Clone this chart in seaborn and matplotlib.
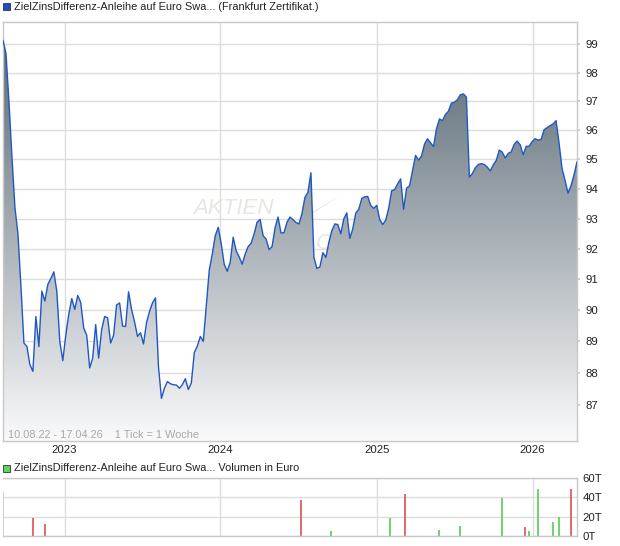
import numpy as np
import pandas as pd
import seaborn as sns
import matplotlib.pyplot as plt
from matplotlib.colors import LinearSegmentedColormap
from matplotlib.patches import Rectangle, Polygon
from matplotlib.ticker import NullLocator, NullFormatter

# --- Daten (woechentlich ab 10.08.22) ---
start = '2022-08-10'
prices = [
    # Aug 2022 - Apr 2023
    99.15, 98.68, 96.98, 95.08, 93.37, 92.50, 90.78, 88.95, 88.84, 88.26,
    88.05, 89.80, 88.84, 90.62, 90.30, 90.84, 91.03, 91.25, 90.62, 89.00,
    88.39, 89.20, 89.87, 90.38, 90.03, 90.48, 90.25, 89.43, 89.20, 88.16,
    88.47, 89.54, 88.47, 89.38, 89.80, 89.76, 88.95, 89.20,
    # Mai 2023 - Jan 2024
    90.17, 90.24, 89.49, 89.48, 90.60, 90.03, 89.63, 89.16, 89.28, 88.92,
    89.60, 89.96, 90.24, 90.40, 88.21, 87.20, 87.52, 87.73, 87.66, 87.63,
    87.62, 87.52, 87.63, 87.82, 87.48, 87.69, 88.65, 88.85, 89.16, 89.00,
    90.14, 91.31, 91.83, 92.44, 92.72, 92.17, 91.50, 91.27,
    # Jan 2024 - Okt 2024
    91.56, 92.39, 91.94, 91.74, 91.50, 91.83, 92.08, 92.19, 92.50, 92.89,
    92.98, 92.44, 92.33, 91.98, 92.08, 92.70, 93.06, 92.53, 92.54, 92.89,
    93.06, 92.97, 92.88, 92.83, 93.17, 93.72, 93.89, 94.55, 91.72, 91.36,
    91.41, 91.88, 91.72, 92.22, 92.61, 92.83, 92.81, 92.50, 93.00,
    # Okt 2024 - Jul 2025
    93.20, 92.35, 92.67, 93.19, 93.32, 93.68, 93.74, 93.75, 93.45, 93.35,
    93.45, 92.98, 92.81, 92.95, 93.35, 93.94, 93.98, 94.17, 94.34, 93.32,
    94.03, 94.11, 94.63, 95.14, 94.98, 95.12, 95.53, 95.71, 95.57, 95.44,
    96.05, 96.39, 96.33, 96.55, 96.66, 96.94, 96.97, 97.06, 97.23,
    # Jul 2025 - Apr 2026
    97.26, 97.15, 94.40, 94.52, 94.72, 94.83, 94.86, 94.83, 94.74, 94.61,
    94.82, 94.97, 95.32, 95.25, 95.05, 95.21, 95.26, 95.52, 95.63, 95.50,
    95.16, 95.45, 95.45, 95.61, 95.71, 95.66, 95.69, 96.02, 96.09, 96.16,
    96.22, 96.33, 95.56, 94.69, 94.29, 93.86, 94.11, 94.48, 94.92,
]

year_ticks = ['2023-01-01', '2024-01-01', '2025-01-01', '2026-01-01']
year_labels = ['2023', '2024', '2025', '2026']
price_ticks = [87, 88, 89, 90, 91, 92, 93, 94, 95, 96, 97, 98, 99]

vol_dates = ['2022-08-10', '2022-10-19', '2022-11-16', '2024-07-07', '2024-09-16',
             '2025-02-02', '2025-03-09', '2025-05-26', '2025-07-14', '2025-10-22',
             '2025-12-15', '2025-12-24', '2026-01-14', '2026-02-17', '2026-03-05',
             '2026-04-02']
vol_values = [45.9, 18.6, 12.4, 37.2, 5.2, 18.6, 43.4, 6.2, 10.3, 39.3,
              9.3, 5.2, 48.6, 14.5, 19.7, 48.6]  # in Tausend Euro
vol_dir = ['flat', 'down', 'down', 'down', 'up', 'up', 'down', 'up', 'up', 'up',
           'down', 'up', 'up', 'up', 'up', 'down']
vol_ticks = [0, 20, 40, 60]

title_top = 'ZielZinsDifferenz-Anleihe auf Euro Swa... (Frankfurt Zertifikat.)'
title_vol = 'ZielZinsDifferenz-Anleihe auf Euro Swa... Volumen in Euro'
period_txt = '10.08.22 - 17.04.26    1 Tick = 1 Woche'

# --- Stil ---
sns.set_theme(style='white')
plt.rcParams['font.family'] = ['Liberation Sans', 'DejaVu Sans']
GRID = '#dcdcdc'
SPINE = '#c8c8c8'
LINE = '#1f57c3'
TICKFS = 8.2
dir_colors = {'up': '#62d062', 'down': '#dd5e5e', 'flat': '#c8c8c8'}

W, H = 620, 546


def box(l, t, r, b):
    return [l / W, 1 - b / H, (r - l) / W, (b - t) / H]


fig = plt.figure(figsize=(W / 100, H / 100), dpi=100)
ax = fig.add_axes(box(3, 22, 577, 441))
axv = fig.add_axes(box(3, 478, 577, 536), sharex=ax)

df = pd.DataFrame({'datum': pd.date_range(start, periods=len(prices), freq='7D'),
                   'kurs': prices})

# --- Kurschart ---
ax.set_yscale('log')
ymin, ymax = 85.88, 99.8
poly = ax.fill_between(df['datum'], df['kurs'], 80, color='none', lw=0)
top_frac = (np.log(max(prices)) - np.log(ymin)) / (np.log(ymax) - np.log(ymin))
cmap = LinearSegmentedColormap.from_list('grad', ['#fafafb', '#5a6a75'])
im = ax.imshow(np.linspace(1, 0, 256).reshape(-1, 1), cmap=cmap, aspect='auto',
               extent=[0, 1, 0, top_frac], transform=ax.transAxes, zorder=1,
               interpolation='bilinear')
im.set_clip_path(poly.get_paths()[0], transform=ax.transData)

sns.lineplot(data=df, x='datum', y='kurs', ax=ax, color=LINE, lw=1.0, zorder=3)

# Wasserzeichen (hinter der Flaeche)
wm = '#e9e5e0'
ax.text(193 / W, 1 - 214 / H, 'AKTIEN', transform=fig.transFigure, fontsize=16,
        style='italic', color=wm, zorder=0.8)
ax.text(316 / W, 1 - 249 / H, 'C', transform=fig.transFigure, fontsize=16,
        style='italic', color=wm, zorder=0.8)
ax.add_patch(Polygon([(298 / W, 1 - 223 / H), (341 / W, 1 - 195 / H), (302 / W, 1 - 218 / H)],
                     closed=True, transform=fig.transFigure, fc=wm, ec='none', zorder=0.8))

ax.set_xlim(df['datum'].iloc[0], df['datum'].iloc[-1])
ax.set_ylim(ymin, ymax)
ax.yaxis.tick_right()
ax.set_yticks(price_ticks)
ax.set_yticklabels([str(t) for t in price_ticks])
ax.yaxis.set_minor_locator(NullLocator())
ax.yaxis.set_minor_formatter(NullFormatter())
ax.set_xticks(pd.to_datetime(year_ticks))
ax.set_xticklabels(year_labels)
ax.tick_params(axis='y', length=2, color=SPINE, pad=4, labelsize=TICKFS, labelcolor='#222222')
ax.tick_params(axis='x', length=0, pad=3, labelsize=TICKFS, labelcolor='#222222')
ax.grid(True, color=GRID, lw=1)
ax.set_axisbelow(True)
ax.set_xlabel('')
ax.set_ylabel('')
for s in ax.spines.values():
    s.set_color(SPINE)
    s.set_linewidth(1)

# --- Volumen ---
vol = pd.DataFrame({'datum': pd.to_datetime(vol_dates), 'wert': vol_values, 'dir': vol_dir})
axv.vlines(vol['datum'], 0, vol['wert'], colors=[dir_colors[d] for d in vol['dir']],
           lw=1.3, zorder=2)
axv.set_ylim(0, 60)
axv.yaxis.tick_right()
axv.set_yticks(vol_ticks)
axv.set_yticklabels([f'{t}T' for t in vol_ticks])
axv.tick_params(axis='y', length=0, pad=4, labelsize=TICKFS, labelcolor='#222222')
axv.tick_params(axis='x', length=0, labelbottom=False)
axv.grid(True, color=GRID, lw=1)
axv.set_axisbelow(True)
for k, s in axv.spines.items():
    s.set_color(SPINE)
    s.set_linewidth(1)
axv.spines['left'].set_visible(False)

# --- Beschriftungen ---
fig.patches.append(Rectangle((3 / W, 1 - 10 / H), 7 / W, 7 / H, transform=fig.transFigure,
                             fc='#1f50c0', ec='#333333', lw=0.6))
fig.text(14 / W, 1 - 6.5 / H, title_top, fontsize=7.9, va='center', color='#222222')
fig.patches.append(Rectangle((3 / W, 1 - 472 / H), 7 / W, 7 / H, transform=fig.transFigure,
                             fc='#62d062', ec='#333333', lw=0.6))
fig.text(14 / W, 1 - 468 / H, title_vol, fontsize=7.9, va='center', color='#222222')
fig.text(8 / W, 1 - 435 / H, period_txt, fontsize=7.9, va='center', color='#a8a8a8')

plt.savefig('out.png', dpi=100)
